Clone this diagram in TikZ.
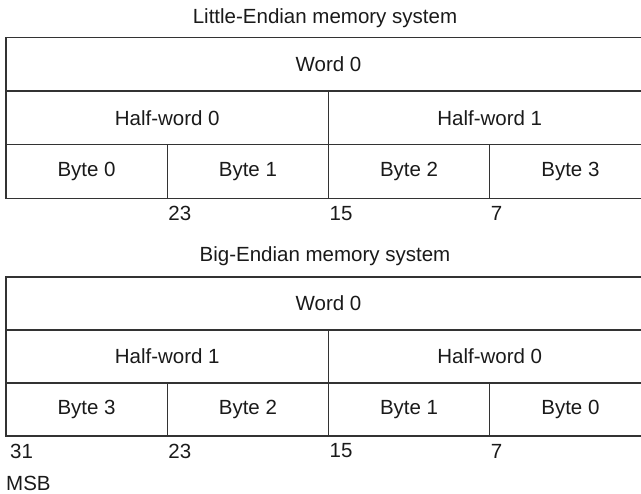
\documentclass[tikz,border=0pt]{standalone}
\usepackage{fontspec}
\setmainfont{Liberation Sans}
\definecolor{rule}{HTML}{333333}
\definecolor{ink}{HTML}{1A1A1A}

\begin{document}
\begin{tikzpicture}[x=1pt, y=-1pt,
  cell/.style={draw=rule, line width=1.3pt, rectangle, inner sep=0pt, outer sep=0pt,
               minimum height=53.5pt, font=\fontsize{20.5}{24}\selectfont, text=ink},
  wordcell/.style={cell, minimum width=645pt},
  halfcell/.style={cell, minimum width=322.5pt},
  bytecell/.style={cell, minimum width=161.25pt},
  heading/.style={font=\fontsize{20.5}{24}\selectfont, text=ink},
  bitno/.style={font=\fontsize{20.5}{24}\selectfont, text=ink, anchor=west, inner sep=1pt}
]
  \useasboundingbox (0,0) rectangle (641,494);

  % Little-Endian
  \node[heading] (le-title) at (325,18.5) {Little-Endian memory system};
  \node[wordcell] (le-word) at (328.5,64) {Word 0};
  \node[halfcell] (le-half0) at (167.25,118) {Half-word 0};
  \node[halfcell] (le-half1) at (489.75,118) {Half-word 1};
  \node[bytecell] (le-byte0) at (86.6,171.5) {Byte 0};
  \node[bytecell] (le-byte1) at (247.9,171.5) {Byte 1};
  \node[bytecell] (le-byte2) at (409.1,171.5) {Byte 2};
  \node[bytecell] (le-byte3) at (570.4,171.5) {Byte 3};
  \node[bitno] (le-b23) at (le-byte1.south west) [yshift=-15pt] {23};
  \node[bitno] (le-b15) at (le-byte2.south west) [yshift=-15pt] {15};
  \node[bitno] (le-b7) at (le-byte3.south west) [yshift=-15pt] {7};

  % Big-Endian
  \node[heading] (be-title) at (325,256) {Big-Endian memory system};
  \node[wordcell, minimum height=53pt] (be-word) at (328.5,303.5) {Word 0};
  \node[halfcell, minimum height=53pt] (be-half1) at (167.25,356.5) {Half-word 1};
  \node[halfcell, minimum height=53pt] (be-half0) at (489.75,356.5) {Half-word 0};
  \node[bytecell, minimum height=53pt] (be-byte3) at (86.6,409.5) {Byte 3};
  \node[bytecell, minimum height=53pt] (be-byte2) at (247.9,409.5) {Byte 2};
  \node[bytecell, minimum height=53pt] (be-byte1) at (409.1,409.5) {Byte 1};
  \node[bytecell, minimum height=53pt] (be-byte0) at (570.4,409.5) {Byte 0};
  \node[bitno] (be-b31) at ([xshift=3pt]be-byte3.south west) [yshift=-15pt] {31};
  \node[bitno] (be-b23) at (be-byte2.south west) [yshift=-15pt] {23};
  \node[bitno] (be-b15) at (be-byte1.south west) [yshift=-15pt] {15};
  \node[bitno] (be-b7) at (be-byte0.south west) [yshift=-15pt] {7};
  \node[bitno] (be-msb) at (5,483) {MSB};
\end{tikzpicture}
\end{document}
